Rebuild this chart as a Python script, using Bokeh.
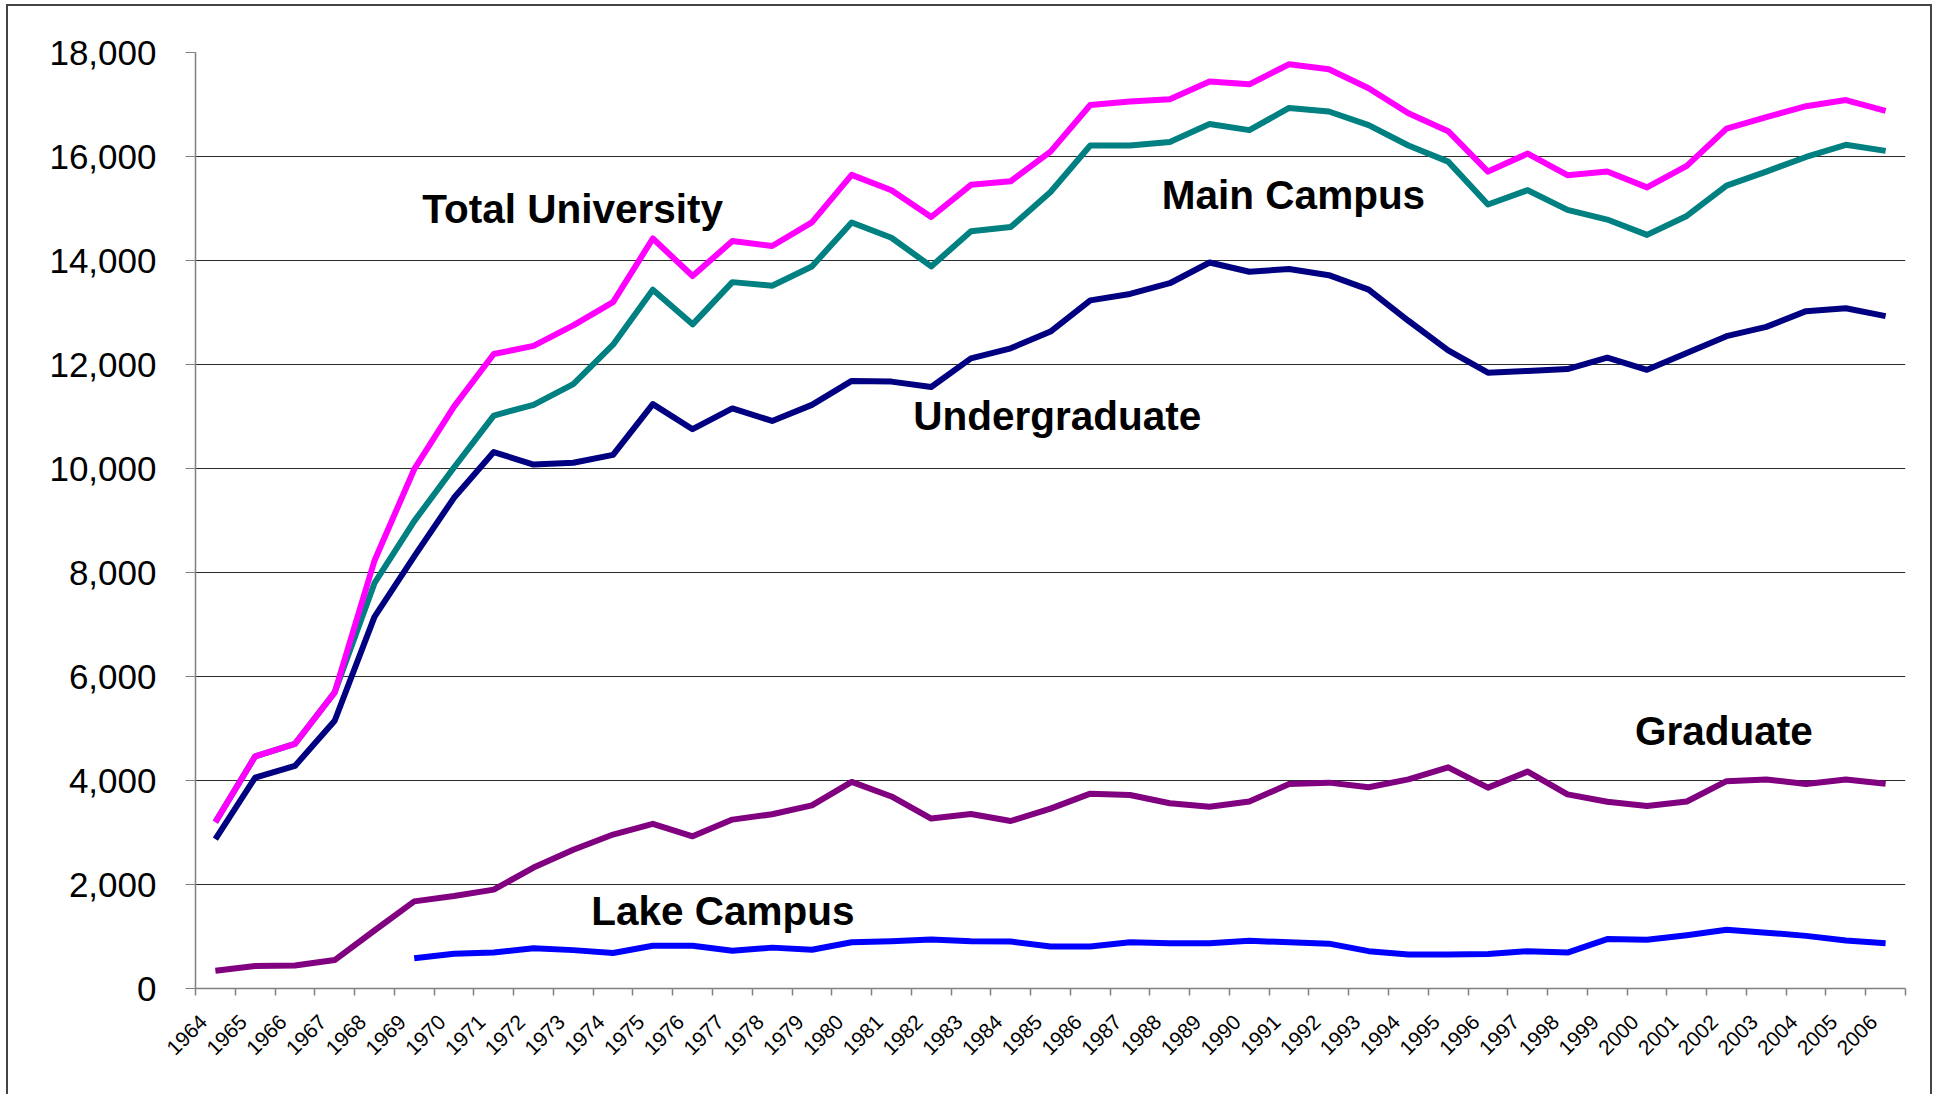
import math
from bokeh.plotting import figure
from bokeh.models import (Range1d, LinearAxis, FixedTicker, NumeralTickFormatter,
                          Label, CustomJSTickFormatter)
from bokeh.embed import file_html
from bokeh.resources import INLINE

# ---------------- data ----------------
years = list(range(1964, 2007))

total_university = [3200, 4465, 4705, 5696, 8226, 9986, 11190, 12201, 12359, 12751,
                    13198, 14423, 13701, 14375, 14278, 14732, 15647, 15352, 14836, 15455,
                    15524, 16094, 16989, 17058, 17099, 17443, 17388, 17773, 17677, 17312,
                    16831, 16487, 15710, 16056, 15640, 15710, 15406, 15819, 16535, 16755,
                    16968, 17085, 16879]

main_campus = [3200, 4465, 4705, 5696, 7795, 8988, 10020, 11018, 11224, 11623,
               12380, 13439, 12772, 13584, 13515, 13886, 14732, 14437, 13886, 14561,
               14643, 15317, 16211, 16211, 16280, 16624, 16507, 16934, 16865, 16604,
               16211, 15902, 15076, 15352, 14973, 14787, 14492, 14856, 15441, 15710,
               15991, 16225, 16108]

undergraduate = [2872, 4055, 4280, 5149, 7146, 8311, 9436, 10316, 10075, 10110,
                 10261, 11238, 10756, 11155, 10915, 11224, 11685, 11671, 11568, 12118,
                 12311, 12634, 13233, 13357, 13563, 13962, 13783, 13838, 13718, 13439,
                 12841, 12270, 11843, 11877, 11912, 12132, 11898, 12222, 12545, 12724,
                 13026, 13081, 12930]

graduate = [342, 431, 444, 547, 1115, 1675, 1778, 1901, 2325, 2667,
            2961, 3166, 2927, 3248, 3351, 3522, 3973, 3693, 3269, 3357,
            3221, 3460, 3747, 3720, 3563, 3494, 3597, 3932, 3959, 3870,
            4021, 4253, 3863, 4171, 3734, 3590, 3508, 3597, 3987, 4021,
            3932, 4021, 3939]

lake_years = list(range(1969, 2007))
lake_campus = [581, 670, 691, 773, 738, 684, 821, 821, 725, 786,
               745, 889, 909, 944, 909, 903, 807, 807, 889, 868,
               868, 916, 889, 862, 718, 656, 656, 663, 718, 691,
               950, 937, 1026, 1128, 1074, 1012, 923, 868]

y_ticks = list(range(0, 18001, 2000))

series_labels = ["Total University", "Main Campus", "Undergraduate", "Graduate", "Lake Campus"]
label_x = [1969.2, 1987.8, 1981.55, 1999.7, 1973.45]
label_y = [14990, 15260, 11010, 4960, 1500]

# ---------------- figure ----------------
p = figure(width=1926, height=1090,
           x_range=Range1d(years[0] - 0.5, years[-1] + 0.5),
           y_range=Range1d(0, 18000),
           x_axis_type=None,
           output_backend="svg", toolbar_location=None,
           min_border_left=187, min_border_right=29,
           min_border_top=46, min_border_bottom=108)
p.outline_line_color = None
p.background_fill_color = "white"
p.border_fill_color = "white"
p.styles = {"margin-left": "6px", "margin-top": "4px",
            "border-top": "2px solid #444444",
            "border-left": "2px solid #444444",
            "border-right": "2px solid #444444"}

# y axis
p.yaxis.ticker = FixedTicker(ticks=y_ticks)
p.yaxis.formatter = NumeralTickFormatter(format="0,0")
p.yaxis.major_label_text_font = "Liberation Sans"
p.yaxis.major_label_text_font_size = "35px"
p.yaxis.major_label_text_color = "black"
p.yaxis.major_label_standoff = 29
p.yaxis.major_tick_out = 10
p.yaxis.major_tick_in = 0
p.yaxis.minor_tick_line_color = None
p.yaxis.axis_line_color = "#808080"
p.yaxis.axis_line_width = 1.5
p.yaxis.major_tick_line_color = "#808080"

p.ygrid.ticker = FixedTicker(ticks=y_ticks)
p.ygrid.grid_line_color = "#2a2a2a"
p.ygrid.grid_line_width = 1

# x axis: year labels (slightly left of centre, as in the original), tick marks at boundaries
bounds = [y - 0.5 for y in years] + [years[-1] + 0.5]
label_pos = [y - 0.3 for y in years]
xaxis = LinearAxis(ticker=FixedTicker(ticks=label_pos, minor_ticks=bounds),
                   formatter=CustomJSTickFormatter(code="return Math.round(tick).toString();"),
                   major_label_orientation=math.pi / 4,
                   major_label_text_font="Liberation Sans",
                   major_label_text_font_size="21px",
                   major_label_text_color="black",
                   major_label_standoff=23,
                   major_tick_out=0, major_tick_in=0,
                   major_tick_line_color=None,
                   minor_tick_out=7, minor_tick_in=0,
                   minor_tick_line_color="#808080",
                   minor_tick_line_width=1.5,
                   axis_line_color="#808080",
                   axis_line_width=1.5)
p.add_layout(xaxis, "below")

# lines
lw = 6
p.line(years, main_campus, line_color="#008080", line_width=lw, line_join="round")
p.line(years, total_university, line_color="#FF00FF", line_width=lw, line_join="round")
p.line(years, undergraduate, line_color="#000080", line_width=lw, line_join="round")
p.line(years, graduate, line_color="#800080", line_width=lw, line_join="round")
p.line(lake_years, lake_campus, line_color="#0000FF", line_width=lw, line_join="round")

for t, x, y in zip(series_labels, label_x, label_y):
    p.add_layout(Label(x=x, y=y, text=t, text_font="Liberation Sans",
                       text_font_style="bold", text_font_size="40.5px",
                       text_color="black", text_align="left",
                       text_baseline="alphabetic"))

open("out.html", "w").write(file_html(p, INLINE))
